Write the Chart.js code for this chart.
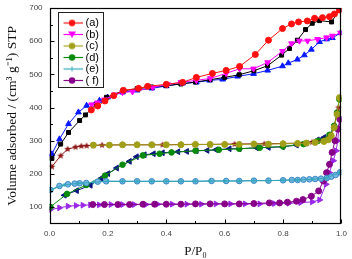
<!DOCTYPE html>
<html><head><meta charset="utf-8">
<script src="https://cdn.jsdelivr.net/npm/chart.js@4/dist/chart.umd.min.js"></script>
<style>html,body{margin:0;padding:0;background:#fff}canvas{display:block}</style>
</head><body>
<canvas id="c" width="352" height="259"></canvas>
<script>
// ---- data (P/P0 and volume adsorbed, cm3/g STP) ----
const SERIES_LABELS = ['(a)', '(b)', '(c)', '(d)', '(e)', '( f)'];
const X_TICKS = [0, 0.2, 0.4, 0.6, 0.8, 1.0];
const X_MINOR = [0.1, 0.3, 0.5, 0.7, 0.9];
const Y_TICKS = [100, 200, 300, 400, 500, 600, 700];
const Y_MINOR = [150, 250, 350, 450, 550, 650];

// (a) red circles
const a_x = [0.143,0.165,0.19,0.22,0.253,0.305,0.336,0.40,0.456,0.503,0.558,0.605,0.651,0.705,0.75,0.798,0.829,0.853,0.883,0.908,0.935,0.959,0.976,0.993];
const a_y = [393,405,420,436,452,458,464,470,476,491,503,512,524,560,603,638,652,658,661,669,671,674,682,694];
// (a) second branch, black squares
const a2_x = [0.008,0.038,0.065,0.103,0.123,0.16,0.195,0.25,0.30,0.35,0.40,0.45,0.50,0.55,0.60,0.65,0.70,0.747,0.795,0.822,0.849,0.877,0.90,0.925,0.966,0.993];
const a2_y = [247,290,325,361,378,410,431,450,457,462,466,471,477,484,491,499,511,526,558,578,603,635,654,662,658,694];
// (b) magenta down triangles
const b_x = [0.144,0.164,0.188,0.222,0.25,0.284,0.353,0.404,0.45,0.503,0.551,0.605,0.651,0.699,0.747,0.798,0.829,0.856,0.884,0.918,0.949,0.969,0.997];
const b_y = [409,415,424,439,446,448,461,470,476,482,488,503,517,517,536,570,593,601,601,606,611,616,625];
// (b) second branch, blue up triangles
const b2_x = [0.008,0.034,0.065,0.099,0.127,0.171,0.199,0.25,0.30,0.35,0.40,0.456,0.503,0.548,0.593,0.644,0.699,0.747,0.798,0.818,0.849,0.873,0.897,0.925,0.949,0.969,0.997];
const b2_y = [260,305,351,386,406,421,431,446,452,458,465,473,476,482,485,494,502,512,525,534,545,558,575,598,606,610,625];
// (c) olive circles
const c_x = [0.15,0.205,0.25,0.30,0.35,0.40,0.45,0.50,0.55,0.60,0.65,0.70,0.75,0.80,0.85,0.88,0.91,0.94,0.955,0.965,0.975,0.985,0.993];
const c_y = [287,287,288,288,288,288,288,289,289,289,289,290,290,291,292,293,295,298,303,315,340,380,430];
// (c) second branch, brown stars
const c2_x = [0.008,0.038,0.062,0.089,0.109,0.127,0.15,0.18,0.25,0.30,0.353,0.387,0.45,0.497,0.55,0.60,0.634,0.70,0.736,0.80,0.85,0.90,0.94,0.96,0.975,0.99];
const c2_y = [222,255,275,281,284,285,286,287,288,288,288,288,289,289,289,290,290,291,291,292,293,296,302,312,340,400];
// (d) green circles
const d_x = [0.003,0.06,0.126,0.19,0.25,0.32,0.377,0.418,0.50,0.58,0.65,0.72,0.80,0.87,0.92,0.959,0.975,0.985,0.993];
const d_y = [101,140,167,195,228,256,261,265,270,273,276,279,283,290,300,318,345,385,425];
// (d) second branch, navy left triangles
const d2_x = [0.051,0.093,0.14,0.177,0.20,0.23,0.274,0.298,0.325,0.356,0.387,0.44,0.47,0.503,0.54,0.57,0.616,0.65,0.709,0.75,0.798,0.846,0.88,0.918,0.94];
const d2_y = [136,150,166,187,201,218,238,252,258,261,264,267,268,270,271,273,276,276,279,280,282,287,293,303,310];
// (e) teal line
const e_x = [0.003,0.05,0.1,0.15,0.2,0.25,0.3,0.35,0.4,0.45,0.5,0.55,0.6,0.65,0.7,0.75,0.8,0.85,0.9,0.95,0.995];
const e_y = [152,167,172,175,178,178,178,178,178,178,178,179,179,179,180,180,181,182,184,188,205];
// (e) second branch, light blue circles
const e2_x = [0.003,0.034,0.063,0.086,0.103,0.126,0.165,0.194,0.25,0.30,0.35,0.40,0.45,0.50,0.555,0.605,0.65,0.70,0.75,0.80,0.83,0.85,0.87,0.89,0.91,0.93,0.95,0.965,0.98,0.995];
const e2_y = [152,164,169,171,172,173,177,178,178,178,178,178,178,178,179,179,179,180,180,181,182,182,183,184,185,186,188,192,197,205];
// (f) purple circles
const f_x = [0.148,0.188,0.234,0.274,0.32,0.36,0.40,0.45,0.50,0.55,0.60,0.65,0.70,0.753,0.788,0.815,0.846,0.868,0.897,0.922,0.938,0.949,0.959,0.968,0.978,0.988,0.995];
const f_y = [108,108,108,108,109,109,109,109,110,110,110,110,111,113,113,115,118,123,133,149,179,204,229,265,300,335,365];
// (f) second branch, violet right triangles
const f2_x = [0.003,0.034,0.063,0.091,0.114,0.14,0.17,0.21,0.25,0.29,0.33,0.37,0.42,0.47,0.52,0.57,0.62,0.67,0.72,0.77,0.82,0.86,0.90,0.925,0.947,0.959,0.972,0.982,0.987,0.995];
const f2_y = [93,98,103,105,106,107,107,108,108,108,108,109,109,109,109,110,110,110,110,111,112,114,116,122,169,204,240,270,300,365];

// ---- styles ----
const COL = {
  red:'#ff1010', black:'#000000', mag:'#ff00ff', blue:'#0a1aff', olive:'#a0a018', brown:'#8c1414',
  green:'#0a8a0a', navy:'#0a1480', teal:'#30a8b8', lblue:'#3a86c4', lblueFill:'#78b8e4', purple:'#880088', violet:'#9a28e8'
};

function starImg(color, r) {
  const c = document.createElement('canvas');
  const s = Math.ceil(2 * r + 2);
  c.width = c.height = s;
  const g = c.getContext('2d');
  g.fillStyle = color; g.beginPath();
  for (let i = 0; i < 10; i++) {
    const ang = -Math.PI / 2 + i * Math.PI / 5;
    const rr = (i % 2) ? r * 0.45 : r;
    g.lineTo(s / 2 + rr * Math.cos(ang), s / 2 + rr * Math.sin(ang));
  }
  g.closePath(); g.fill();
  return c;
}

function legendImg(color, shape) {
  const c = document.createElement('canvas');
  c.width = 22; c.height = 9;
  const g = c.getContext('2d');
  g.strokeStyle = color; g.lineWidth = 1.2;
  g.beginPath(); g.moveTo(0, 4.5); g.lineTo(22, 4.5); g.stroke();
  g.fillStyle = color;
  if (shape === 'circle') { g.beginPath(); g.arc(11, 4.5, 3.2, 0, 2 * Math.PI); g.fill(); }
  else if (shape === 'down') { g.beginPath(); g.moveTo(7, 1.5); g.lineTo(15, 1.5); g.lineTo(11, 8); g.closePath(); g.fill(); }
  else if (shape === 'cross') { g.lineWidth = 1; g.beginPath(); g.moveTo(11, 2); g.lineTo(11, 7); g.stroke(); }
  return c;
}

function series(label, xs, ys, color, extra) {
  return Object.assign({
    label: label,
    data: xs.map((x, i) => ({ x: x, y: ys[i] })),
    showLine: true, borderColor: color, backgroundColor: color, borderWidth: 1,
    pointRadius: 2.9, pointBorderWidth: 1, pointBorderColor: color, pointBackgroundColor: color,
    pointStyle: 'circle', tension: 0, fill: false
  }, extra || {});
}

const datasets = [
  series('(e)', e_x, e_y, COL.teal, { pointStyle: 'cross', pointRadius: 2 }),
  series('(e) 2', e2_x, e2_y, COL.lblue, { pointBackgroundColor: COL.lblueFill, pointRadius: 2.8 }),
  series('(a)', a_x, a_y, COL.red, { pointRadius: 3 }),
  series('(b)', b_x, b_y, COL.mag, { pointStyle: 'triangle', rotation: 180, pointRadius: 3.3 }),
  series('(a) 2', a2_x, a2_y, COL.black, { pointStyle: 'rect', pointRadius: 2.8 }),
  series('(b) 2', b2_x, b2_y, COL.blue, { pointStyle: 'triangle', pointRadius: 3.3 }),
  series('(c)', c_x, c_y, COL.olive, { pointRadius: 3 }),
  series('(c) 2', c2_x, c2_y, COL.brown, { pointStyle: starImg(COL.brown, 3.6) }),
  series('(d)', d_x, d_y, COL.green, { pointRadius: 2.8 }),
  series('(d) 2', d2_x, d2_y, COL.navy, { pointStyle: 'triangle', rotation: 270, pointRadius: 3.3 }),
  series('( f)', f_x, f_y, COL.purple, { pointRadius: 3 }),
  series('( f) 2', f2_x, f2_y, COL.violet, { pointStyle: 'triangle', rotation: 90, pointRadius: 3.3 })
];

const LEGEND_STYLE = [
  [COL.red, 'circle'], [COL.mag, 'down'], [COL.olive, 'circle'],
  [COL.green, 'circle'], [COL.teal, 'cross'], [COL.purple, 'circle']
];

const frame = {
  id: 'frame',
  afterLayout(chart) {
    const L = chart.legend, a = chart.chartArea;
    if (!L) return;
    L.left = a.left + 14; L.top = a.top + 9;
    L.right = L.left + L.width; L.bottom = L.top + 80;
  },
  afterDraw(chart) {
    const ctx = chart.ctx, a = chart.chartArea, x = chart.scales.x, y = chart.scales.y;
    ctx.save();
    ctx.strokeStyle = '#000'; ctx.lineWidth = 1.2;
    const l = Math.round(a.left) + 0.5, t = Math.round(a.top) + 0.5, r = Math.round(a.right) - 0.5, b = Math.round(a.bottom) - 0.5;
    ctx.strokeRect(l, t, r - l, b - t);
    ctx.lineWidth = 1;
    ctx.beginPath();
    X_TICKS.forEach(v => { const p = Math.round(x.getPixelForValue(v)) + 0.5; ctx.moveTo(p, b); ctx.lineTo(p, b - 4); });
    X_MINOR.forEach(v => { const p = Math.round(x.getPixelForValue(v)) + 0.5; ctx.moveTo(p, b); ctx.lineTo(p, b - 2.5); });
    Y_TICKS.forEach(v => { const p = Math.round(y.getPixelForValue(v)) + 0.5; ctx.moveTo(l, p); ctx.lineTo(l + 4, p); });
    Y_MINOR.forEach(v => { const p = Math.round(y.getPixelForValue(v)) + 0.5; ctx.moveTo(l, p); ctx.lineTo(l + 2.5, p); });
    ctx.stroke();
    const L = chart.legend;
    if (L) {
      ctx.lineWidth = 1; ctx.strokeStyle = '#222';
      ctx.strokeRect(Math.round(L.left - 6) + 0.5, Math.round(L.top - 5) + 0.5, 45, 75);
    }
    ctx.restore();
  }
};

new Chart(document.getElementById('c'), {
  type: 'scatter',
  data: { datasets: datasets },
  plugins: [frame],
  options: {
    responsive: false, animation: false, devicePixelRatio: 1,
    layout: { padding: { left: 4, right: 10, top: 0, bottom: 0 } },
    plugins: {
      tooltip: { enabled: false },
      legend: {
        display: true, position: 'chartArea', align: 'start',
        labels: {
          usePointStyle: true, pointStyleWidth: 16, padding: 0.5,
          color: '#000', font: { family: 'Liberation Sans', size: 11 },
          generateLabels: () => SERIES_LABELS.map((t, i) => ({
            text: t, pointStyle: legendImg(LEGEND_STYLE[i][0], LEGEND_STYLE[i][1]),
            fillStyle: LEGEND_STYLE[i][0], strokeStyle: LEGEND_STYLE[i][0], lineWidth: 0,
            hidden: false, fontColor: '#000'
          }))
        }
      }
    },
    scales: {
      x: {
        type: 'linear', min: 0, max: 1,
        afterBuildTicks: s => { s.ticks = X_TICKS.map(v => ({ value: v })); },
        ticks: { callback: v => Number(v).toFixed(1), color: '#444', padding: 5, font: { family: 'Liberation Sans', size: 8 }, maxRotation: 0 },
        grid: { display: false, drawTicks: false },
        border: { display: false },
        title: { display: true, text: 'P/P₀', color: '#111', padding: { top: 0, bottom: 0 }, font: { family: 'Liberation Serif', size: 13 } }
      },
      y: {
        type: 'linear', min: 50, max: 700,
        afterBuildTicks: s => { s.ticks = Y_TICKS.map(v => ({ value: v })); },
        afterFit: s => { s.paddingTop = 8; s.paddingBottom = 6; },
        ticks: { callback: v => String(v), color: '#444', padding: 7, font: { family: 'Liberation Sans', size: 8 } },
        grid: { display: false, drawTicks: false },
        border: { display: false },
        title: { display: true, text: 'Volume adsorbed / (cm³ g⁻¹) STP', color: '#111', padding: { top: 0, bottom: 2 }, font: { family: 'Liberation Serif', size: 13.5 } }
      }
    }
  }
});
</script>
</body></html>
